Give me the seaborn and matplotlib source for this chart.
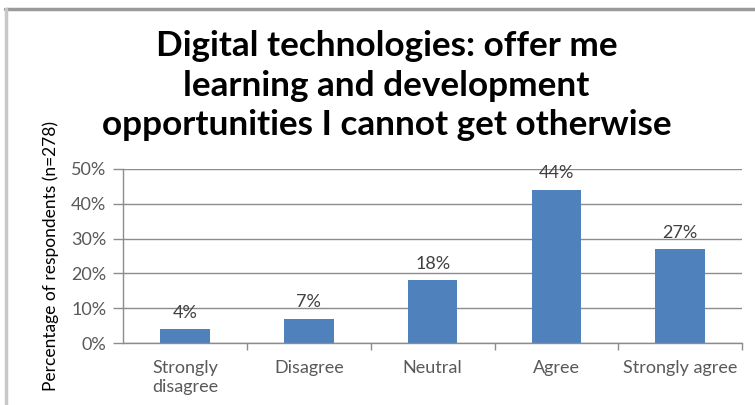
import matplotlib
matplotlib.use("Agg")
import matplotlib.pyplot as plt
from matplotlib.lines import Line2D
from matplotlib.ticker import PercentFormatter, FixedLocator
import seaborn as sns
import pandas as pd

categories = ["Strongly\ndisagree", "Disagree", "Neutral", "Agree", "Strongly agree"]
percent = [4, 7, 18, 44, 27]
y_ticks = [0, 10, 20, 30, 40, 50]

title = "Digital technologies: offer me\nlearning and development\nopportunities I cannot get otherwise"
y_label = "Percentage of respondents (n=278)"

sns.set_theme(style="white")
plt.rcParams["font.family"] = ["Lato", "DejaVu Sans"]

df = pd.DataFrame({"category": categories, "percent": percent})

fig = plt.figure(figsize=(7.55, 4.05), dpi=100)
ax = fig.add_axes([0.163, 0.153, 0.820, 0.430])

sns.barplot(data=df, x="category", y="percent", color="#4F81BD", saturation=1,
            width=0.4, ax=ax, edgecolor="none")

ax.set_xlim(-0.5, 4.5)
ax.set_ylim(0, 50)
ax.yaxis.set_major_locator(FixedLocator(y_ticks))
ax.yaxis.set_major_formatter(PercentFormatter(decimals=0))
ax.grid(axis="y", color="#8C8C8C", linewidth=1.0)
ax.set_axisbelow(True)

for side in ("top", "right"):
    ax.spines[side].set_visible(False)
for side in ("left", "bottom"):
    ax.spines[side].set_color("#8C8C8C")
    ax.spines[side].set_linewidth(1.0)

tick_font = 13
ax.tick_params(axis="y", which="major", direction="out", length=7, width=1,
               color="#8C8C8C", labelsize=tick_font, labelcolor="#595959", pad=5, left=True)
ax.tick_params(axis="x", which="major", length=0, labelsize=tick_font,
               labelcolor="#595959", pad=12)
for lbl in ax.get_xticklabels():
    lbl.set_linespacing(1.25)
ax.xaxis.set_minor_locator(FixedLocator([0.5, 1.5, 2.5, 3.5, 4.5]))
ax.tick_params(axis="x", which="minor", direction="out", length=5, width=1,
               color="#8C8C8C", bottom=True)

ax.set_xlabel("")
ax.set_ylabel(y_label, fontsize=12.5, color="#000000", labelpad=9)

for container in ax.containers:
    ax.bar_label(container, labels=[f"{v}%" for v in percent], padding=6,
                 fontsize=tick_font, color="#404040")

fig.text(0.512, 0.925, title, ha="center", va="top", fontsize=25.3,
         fontweight="bold", color="#000000", linespacing=1.28)

# frame edges of the chart container
fig.add_artist(Line2D([0.007, 1.0], [0.978, 0.978], transform=fig.transFigure,
                      color="#9A9A9A", linewidth=2.5))
fig.add_artist(Line2D([0.008, 0.008], [0.0, 0.978], transform=fig.transFigure,
                      color="#C8C8C8", linewidth=2.5))

fig.savefig("out.png", dpi=100)
